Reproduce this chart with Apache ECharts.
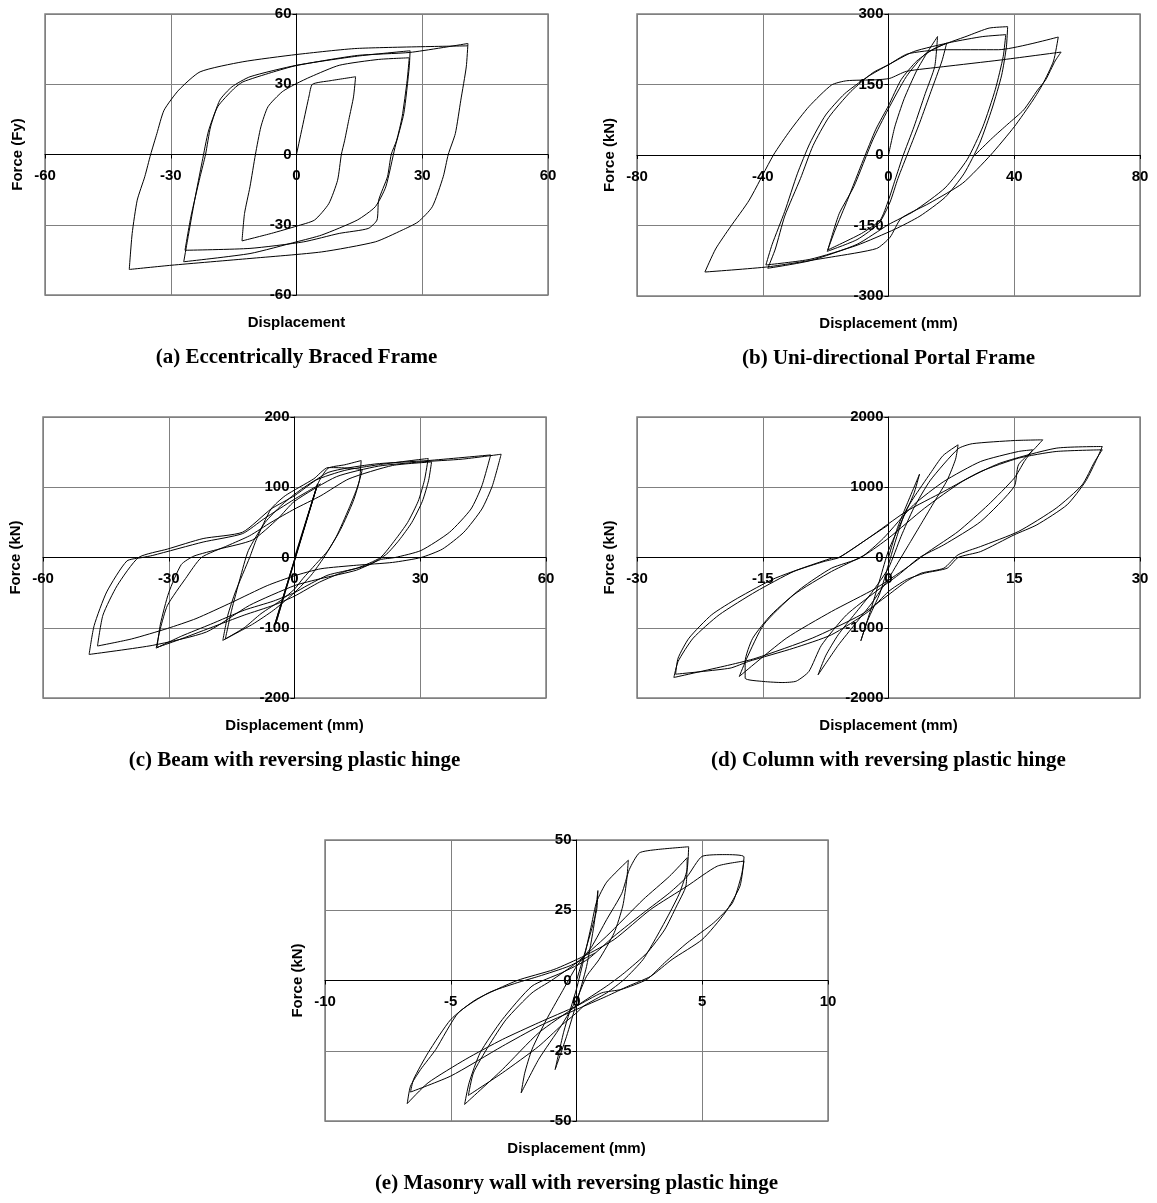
<!DOCTYPE html>
<html>
<head>
<meta charset="utf-8">
<script src="https://cdn.jsdelivr.net/npm/echarts@6/dist/echarts.min.js"></script>
<style>
html,body{margin:0;padding:0;background:#fff;}
#chart{width:1157px;height:1203px;}
</style>
</head>
<body>
<div id="chart"></div>
<script>
// ---------- data (displacement / force pairs, in plotting order) ----------
var captions = [
  '(a) Eccentrically Braced Frame',
  '(b) Uni-directional Portal Frame',
  '(c) Beam with reversing plastic hinge',
  '(d) Column with reversing plastic hinge',
  '(e) Masonry wall with reversing plastic hinge'
];
var xNames = ['Displacement', 'Displacement (mm)', 'Displacement (mm)', 'Displacement (mm)', 'Displacement (mm)'];
var yNames = ['Force (Fy)', 'Force (kN)', 'Force (kN)', 'Force (kN)', 'Force (kN)'];
// [min, max, interval]
var xRanges = [[-60, 60, 30], [-80, 80, 40], [-60, 60, 30], [-30, 30, 15], [-10, 10, 5]];
var yRanges = [[-60, 60, 30], [-300, 300, 150], [-200, 200, 100], [-2000, 2000, 1000], [-50, 50, 25]];

// (a) Eccentrically Braced Frame
var dispA = [0,3,3.8,8,14.1, 13.6,12.5,11.5,10.7,9.8,7.7,4.3,0,-6,-13,
  -12.4,-11.1,-9.8,-8.5,-6.8,-3.4,0,3.4,10.2,19.6,26.9,
  26.4,25.2,23.9,22.6,21.7,19.6,19.2,17.1,10.2,1.7,-11.1,-26.6,
  -25.2,-23,-21.7,-20.5,-18.3,-15.4,-11.1,0,14.5,27.1,
  26.9,25.6,23.5,21.3,18.8,14.5,6,0,-11.1,-26.9,
  -26,-24.3,-22.5,-21,-18.8,-15,-12.8,-6,0,14.5,27.1,40.9,
  40.5,39.2,37.9,36.2,35,32.4,29,25.2,18.8,6,-11.1,-29.9,-39.9,
  -39.2,-38,-36.2,-34.8,-33.3,-31.6,-28.1,-23,-12.8,0,14.5,40.9];
var forceA = [0,25,30,31.5,33.2, 24.6,15,6.1,0,-11,-21,-28,-30.6,-33.7,-36.9,
  -25.2,-13.8,0,11.8,20.4,26.8,30.3,33.2,38.1,40.6,41.3,
  31.7,16.1,6.1,0,-9.5,-19.5,-28,-31.6,-33.7,-37.3,-40.1,-40.9,
  -26.6,-9.5,0,11.8,23.2,28.9,33.2,38.1,42,44.3,
  37.4,17.5,3,-13.8,-22.3,-28,-34.4,-37.3,-42.3,-45.8,
  -36.6,-19.5,-3,10,20.4,28,31,35,38,42.3,43.6,47.4,
  37.4,23.2,9,0,-9.5,-22.3,-28.8,-32.3,-37.3,-41.6,-44.4,-47.3,-49.1,
  -33.7,-19.5,-9.5,0,9,18.9,27.5,35.3,39.6,42.7,45.3,46.4];

// (b) Uni-directional Portal Frame
var dispB = [0,2,5,9,12.5,15.6,
  14.7,11.7,8.1,4.5,2.1,0,-2.6,-8.6,-19.3,
  -15.7,-11,-5,-0.2,5.7,11.7,18.5,
  17,13.5,10,6.5,3,0.5,-3,-10,-19.5,
  -17,-13,-8,-4,0,4,9,15,25,32,37.9,
  37.5,36,33,29,24,18,10,2,-10,-25,-39,
  -37,-33,-29,-25,-20,-14,-7,0,8,20,30,37.3,
  36.5,34,30,25,18,8,0,-10,-25,-38.4,
  -36,-33,-28,-24,-19,-12,-5,0,6,17,35,54,
  52.5,49,46,40,32.5,23.6,12.9,4,0.5,-3.8,-18.1,-38.4,-58.4,
  -55,-50.3,-44.3,-36.6,-31.2,-25.3,-18.1,-13.3,-4,0.4,5.7,17.6,35.5,54.9,
  53,50,47.4,43,38,33,27.5];
var forceB = [0,60,120,180,220,252,
  188,131,60,-4,-53,-96,-138,-167,-202,
  -125,-67,32,96,167,215,238,
  200,135,70,10,-50,-100,-145,-180,-205,
  -160,-95,-10,55,105,160,200,228,253,270,273,
  230,170,100,25,-40,-90,-130,-158,-192,-222,-234,
  -190,-120,-40,25,85,130,165,192,220,240,252,256,
  210,140,60,-10,-70,-120,-148,-190,-225,-241,
  -200,-130,-50,20,80,135,175,192,215,224,224,251,
  200,150,117,60,0,-60,-103,-135,-175,-199,-217,-238,-249,
  -200,-153,-96,0,53,103,149,158,160,163,178,188,202,219,
  200,160,138,96,66,36,0];

// (c) Beam with reversing plastic hinge
var dispC = [0,5.5,-4.8,5.3,-4.5,5.6,
  8,12,15.9,
  15.5,14,11,8,5,2,0,-3,-8,-12,-17.1,
  -15.9,-14.1,-10.7,-9,-5.6,-2.2,4.6,8,16.1,
  15,13,10,7,4,0,-5,-10,-16.5,
  -15,-13,-11,-7,-3,0,5,12,20,31.9,
  31,29.5,27,24,20.5,15,8,3,0,-5,-12,-20,-27,-33,
  -32,-30.3,-26,-22.2,-15.9,-10.7,-5.6,0,6.3,13,23.4,32.7,
  32,30.5,28,25,22,18,12,6,0,-5,-12,-20,-28,-32.8,
  -32,-30,-27,-24,-18,-10,-4,0,10,20,30,40,49.3,
  47.2,44.7,40.4,35.3,30.2,23.4,14.8,6.3,0,-6.5,-15,-23.5,-30.3,-38.9,-47,
  -45.7,-42.3,-37.2,-30.3,-21.8,-12.4,-5.6,0,8,19.1,31.9,46.8,
  44.7,42.1,37,30.2,24,20.5,14.8,6.3,0,-10.7,-21,-33.8,-49,
  -47.8,-44.8,-40,-36.3,-33.8,-21.8,-12.4,-7.3,0,6.3];
var forceC = [0,105,-97,100,-95,105,
  127,132,138,
  110,80,40,10,-10,-30,-45,-60,-80,-100,-118,
  -82,-49,0,27,69,88,112,128,124,
  100,70,30,0,-25,-50,-75,-95,-116,
  -75,-30,10,50,75,90,110,124,132,141,
  110,80,50,25,0,-15,-25,-40,-50,-62,-75,-95,-112,-129,
  -101,-68,-30,0,17,31,50,69,88,112,131,136,
  110,80,50,25,5,-10,-20,-35,-55,-68,-82,-100,-118,-128,
  -95,-50,-10,2,12,25,55,80,115,130,136,140,147,
  102,69,36,12,0,-7,-11,-16,-26,-40,-64,-87,-101,-116,-126,
  -82,-40,0,12,27,36,69,88,121,133,138,146,
  102,69,36,10,0,-3,-18,-30,-40,-68,-106,-125,-138,
  -97,-49,-5,0,3,22,34,55,83,105];

// (d) Column with reversing plastic hinge
var dispD = [0,1,2,3.7,3,1.5,0,-1,-2,-3.3,-2.5,-1,0,1,2,3,
  5,6.5,8.3,
  8,7,5.5,4,2.5,1,0,-2,-4,-6,-8.4,
  -7.5,-6,-4,-2,0,1.5,3,5,8.3,10,15,18.4,
  17.3,15.5,15,11,6.6,3.7,1.2,-1.5,-5,-8,-9.5,-11,-12.6,-14.9,-17.1,
  -17.1,-16.2,-14,-10.4,-6.8,-3.3,-0.6,3,6.6,11,15.5,17.2,
  16.2,15,11.9,8.3,4.8,2.1,-1.5,-6.8,-12.2,-17.8,
  -16.9,-14.9,-11.3,-6.8,-2.8,0,4.3,8.8,13.3,20,25.5,
  24.9,23.5,21.3,17.7,15,11,8.3,7,4.3,2.1,0,-2.4,-6.8,-11.3,-16.7,-18.9,-25.4,
  -25.1,-23.8,-21.1,-18,-13.5,-6.8,-5.9,-2.4,2.1,6.6,11,15.5,20,25.5,
  24.6,23.1,20,15.5,11,8.3,6.6,3.9,2.1,0,-3.3,-9.1,-15.8,-18.9,-25.6,
  -25.1,-23.3,-20.2,-15.8,-11.3,-7.7,-5.9,-2.4,0];
var forceD = [0,400,700,1186,900,500,100,-300,-700,-1186,-900,-500,-100,300,650,850,
  1200,1450,1604,
  1400,1100,800,500,200,-100,-300,-650,-950,-1250,-1670,
  -1400,-1100,-800,-500,-150,300,700,1100,1547,1620,1665,1675,
  1533,1319,1010,512,180,0,-247,-484,-816,-1250,-1623,-1760,-1780,-1765,-1718,
  -1480,-1150,-816,-437,-152,0,275,750,1082,1367,1509,1533,
  1367,1130,750,370,85,-152,-437,-769,-1150,-1694,
  -1433,-958,-531,-199,38,275,702,1082,1343,1556,1580,
  1414,1082,750,465,323,85,0,-152,-223,-318,-484,-769,-1100,-1290,-1480,-1575,-1661,
  -1433,-1148,-816,-579,-294,-10,0,275,655,940,1224,1414,1509,1533,
  1366,1034,702,370,157,38,-152,-223,-342,-531,-816,-1148,-1433,-1528,-1708,
  -1480,-1148,-816,-484,-199,-57,0,275,465];

// (e) Masonry wall with reversing plastic hinge
var dispE = [0,0.4,0.8,0.85,0.7,0.4,0,-0.4,-0.85,-0.5,0,0.3,0.6,0.8,
  1.2,2.06,
  2,1.84,1.5,0.9,0.4,0,-0.6,-1.5,-2.2,
  -2.06,-1.77,-1.2,-0.6,0,0.6,1.2,1.8,2.1,
  2.5,3.2,4.46,
  4.4,4.1,3.7,3.2,2.65,1.9,1.2,0.3,0,-0.6,-1.5,-2.95,-4.3,
  -4.1,-3.5,-2.8,-1.77,-1,0,1.2,2.65,3.7,4.4,
  4.35,3.98,3.5,2.8,1.9,1.2,0,-1.5,-2.95,-4.45,
  -4.27,-3.83,-2.95,-1.77,-0.6,0.44,1.5,2.65,3.7,4.4,5,5.9,6.66,
  6.5,5.9,5,3.8,2.95,2.06,1.2,0,-1.5,-2.95,-5,-6.6,
  -6.48,-5.9,-5,-4,-2.36,-0.9,0.3,1.5,2.95,4.4,5.6,6.66,
  6.55,6.2,5.45,4.4,3.5,2.8,1.77,1,0,-1.5,-2.95,-4.4,-5.9,-6.73,
  -6.6,-6.2,-5.6,-4.7,-3.5,-2.36,-1.5,-0.3,0.74];
var forceE = [0,12,25,32,20,5,-8,-20,-31.7,-18,-3,8,20,28,
  35,42.8,
  36,26.5,17,7.5,1.5,-6.8,-16,-28,-40,
  -33,-24.5,-14,-4.4,5,12,21.7,31,39.5,
  45.4,46.6,47.6,
  39.5,31.2,24,15.8,7.5,0.4,-4.4,-9,-11.5,-16,-23.4,-32.9,-40.9,
  -32.9,-23.4,-13.9,-4.4,0,6.3,15.8,28.8,37.1,43.7,
  33.6,26.5,18,9.8,2.7,-2,-9.1,-18.6,-31.7,-44.1,
  -36.4,-25.7,-13.9,-2,2.7,7.5,15.8,24,31.2,37,44.2,44.8,44,
  33.6,24,14.6,7.5,1.5,-2,-5.6,-10.3,-16.3,-23.4,-34,-39.7,
  -35.2,-25.7,-13.9,-6.8,0,3.9,8.7,14.6,25.3,33.6,40.7,42.5,
  37.1,27.6,20.5,13.4,6.3,0.4,-3.2,-4.4,-9.1,-15,-21,-28,-36.4,-43.8,
  -37.6,-31.7,-24.6,-11.5,-4.4,-0.8,1.5,5.1,9.8];

var dispSets = [dispA, dispB, dispC, dispD, dispE];
var forceSets = [forceA, forceB, forceC, forceD, forceE];

// ---------- layout ----------
var grids = [
  {left: 45, top: 14, width: 503, height: 281},
  {left: 637, top: 14, width: 503, height: 282},
  {left: 43, top: 417, width: 503, height: 281},
  {left: 637, top: 417, width: 503, height: 281},
  {left: 325, top: 840, width: 503, height: 281}
];

var SANS = '"Liberation Sans", Arial, Helvetica, sans-serif';
var SERIF = '"Liberation Serif", "Times New Roman", serif';
function plainNum(v) { return String(v); }

var option = {
  animation: false,
  backgroundColor: '#fff',
  grid: [], xAxis: [], yAxis: [], series: [], graphic: []
};

grids.forEach(function (g, i) {
  option.grid.push({
    left: g.left, top: g.top, width: g.width, height: g.height,
    show: true, borderColor: '#808080', borderWidth: 1.5, containLabel: false
  });
  // axes cross at the centre of each (symmetric) plot: move the whole axis there
  option.xAxis.push({
    gridIndex: i, type: 'value', position: 'bottom', offset: -g.height / 2,
    min: xRanges[i][0], max: xRanges[i][1], interval: xRanges[i][2],
    axisLine: {show: true, onZero: false, lineStyle: {color: '#000', width: 1}},
    axisTick: {show: true, length: 4, lineStyle: {color: '#000', width: 1}},
    axisLabel: {fontFamily: SANS, fontWeight: 'bold', fontSize: 15, color: '#000', margin: 14, formatter: plainNum},
    splitLine: {show: true, lineStyle: {color: '#808080', width: 1}}
  });
  option.yAxis.push({
    gridIndex: i, type: 'value', position: 'left', offset: -g.width / 2,
    min: yRanges[i][0], max: yRanges[i][1], interval: yRanges[i][2],
    axisLine: {show: true, onZero: false, lineStyle: {color: '#000', width: 1}},
    axisTick: {show: true, length: 4, lineStyle: {color: '#000', width: 1}},
    axisLabel: {fontFamily: SANS, fontWeight: 'bold', fontSize: 15, color: '#000', margin: 5, formatter: plainNum},
    splitLine: {show: true, lineStyle: {color: '#808080', width: 1}}
  });
  var xs = dispSets[i], ys = forceSets[i];
  option.series.push({
    type: 'line', xAxisIndex: i, yAxisIndex: i,
    data: xs.map(function (x, k) { return [x, ys[k]]; }),
    symbol: 'none', showSymbol: false,
    lineStyle: {color: '#000', width: 1},
    smooth: 0.2, z: 5
  });
  var cx = g.left + g.width / 2;
  var cy = g.top + g.height / 2;
  option.graphic.push({
    type: 'text', x: cx, y: g.top + g.height + 28,
    style: {text: xNames[i], font: 'bold 15px ' + SANS, fill: '#000', textAlign: 'center', textVerticalAlign: 'middle'}
  });
  option.graphic.push({
    type: 'text', x: g.left - 27, y: cy, rotation: Math.PI / 2,
    style: {text: yNames[i], font: 'bold 15px ' + SANS, fill: '#000', textAlign: 'center', textVerticalAlign: 'middle'}
  });
  option.graphic.push({
    type: 'text', x: cx, y: g.top + g.height + 63,
    style: {text: captions[i], font: 'bold 21px ' + SERIF, fill: '#000', textAlign: 'center', textVerticalAlign: 'middle'}
  });
});

var chart = echarts.init(document.getElementById('chart'), null, {renderer: 'canvas'});
chart.setOption(option);
</script>
</body>
</html>
